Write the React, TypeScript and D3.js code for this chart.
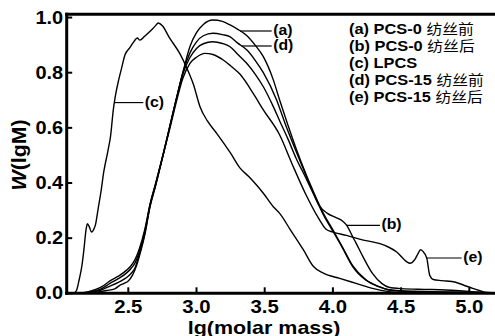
import React from "react";
import * as d3 from "d3";

// ---- data (lg M, W(lgM)) ----
const seriesA: [number, number][] = [
  [2.2, 0], [2.28, 0.005], [2.34, 0.01], [2.4, 0.016], [2.44, 0.03], [2.47, 0.036], [2.5, 0.045],
  [2.53, 0.065], [2.56, 0.1], [2.59, 0.15], [2.62, 0.21], [2.66, 0.315], [2.7, 0.39],
  [2.757, 0.505], [2.8, 0.595], [2.85, 0.7], [2.9, 0.8],
  [2.952, 0.895], [3.0, 0.945], [3.05, 0.975], [3.12, 0.991], [3.19, 0.986], [3.246, 0.973],
  [3.3, 0.958], [3.368, 0.935], [3.43, 0.9], [3.49, 0.858], [3.563, 0.774], [3.61, 0.7],
  [3.67, 0.61], [3.73, 0.525], [3.8, 0.435], [3.856, 0.37], [3.93, 0.29], [4.0, 0.23],
  [4.07, 0.168], [4.145, 0.1], [4.24, 0.05], [4.34, 0.024], [4.41, 0.013], [4.5, 0.009],
  [4.7, 0.006], [5.0, 0.003], [5.19, 0.001],
];
const seriesB: [number, number][] = [
  [2.17, 0], [2.22, 0.005], [2.3, 0.016], [2.366, 0.036], [2.427, 0.053], [2.49, 0.075],
  [2.52, 0.09], [2.549, 0.11], [2.58, 0.15], [2.62, 0.222], [2.66, 0.322], [2.7, 0.395],
  [2.757, 0.508], [2.8, 0.596], [2.85, 0.7],
  [2.9, 0.795], [2.952, 0.855], [3.0, 0.888], [3.05, 0.905], [3.12, 0.912], [3.19, 0.906],
  [3.246, 0.894], [3.3, 0.868], [3.368, 0.834], [3.43, 0.795], [3.49, 0.749], [3.563, 0.677],
  [3.61, 0.625], [3.67, 0.56], [3.73, 0.49], [3.8, 0.42], [3.856, 0.362], [3.9, 0.318],
  [3.96, 0.29], [4.02, 0.275], [4.07, 0.262], [4.1, 0.247], [4.145, 0.205], [4.17, 0.182],
  [4.22, 0.133], [4.29, 0.072], [4.36, 0.035], [4.41, 0.022], [4.5, 0.017], [4.7, 0.014],
  [4.9, 0.01], [5.0, 0.007], [5.1, 0.003], [5.19, 0.001],
];
const seriesC: [number, number][] = [
  [2.1, 0], [2.12, 0.01], [2.14, 0.05], [2.16, 0.1], [2.175, 0.16], [2.19, 0.23], [2.2, 0.252],
  [2.215, 0.24], [2.23, 0.222], [2.245, 0.23], [2.26, 0.25], [2.28, 0.31], [2.3, 0.37],
  [2.32, 0.44], [2.35, 0.515], [2.37, 0.57], [2.39, 0.665], [2.405, 0.715], [2.43, 0.775],
  [2.45, 0.815], [2.476, 0.865], [2.51, 0.89], [2.54, 0.912], [2.566, 0.926], [2.585, 0.918],
  [2.62, 0.932], [2.66, 0.95], [2.695, 0.968], [2.72, 0.98], [2.75, 0.97], [2.8, 0.928],
  [2.879, 0.868], [2.928, 0.818], [2.977, 0.758], [3.027, 0.675], [3.08, 0.625], [3.148, 0.58],
  [3.25, 0.508], [3.318, 0.455], [3.39, 0.42], [3.44, 0.393], [3.49, 0.363], [3.563, 0.314],
  [3.61, 0.29], [3.686, 0.232], [3.783, 0.158], [3.856, 0.098], [3.93, 0.073], [4.05, 0.054],
  [4.17, 0.036], [4.29, 0.018], [4.41, 0.006], [4.5, 0.002], [4.6, 0],
];
const seriesD: [number, number][] = [
  [2.18, 0], [2.25, 0.006], [2.3, 0.012], [2.366, 0.026], [2.427, 0.04], [2.49, 0.058],
  [2.52, 0.072], [2.549, 0.092], [2.58, 0.14], [2.62, 0.215], [2.66, 0.318], [2.7, 0.392],
  [2.757, 0.506], [2.8, 0.596], [2.85, 0.7],
  [2.9, 0.8], [2.952, 0.872], [3.0, 0.912], [3.05, 0.934], [3.12, 0.943], [3.19, 0.938],
  [3.247, 0.93], [3.3, 0.908], [3.37, 0.882], [3.43, 0.845], [3.49, 0.8], [3.588, 0.7],
  [3.65, 0.615], [3.73, 0.515], [3.8, 0.43], [3.856, 0.365], [3.93, 0.285], [4.0, 0.225],
  [4.07, 0.165], [4.145, 0.097], [4.24, 0.048], [4.34, 0.023], [4.41, 0.012], [4.5, 0.008],
  [4.7, 0.005], [5.0, 0.003], [5.19, 0.001],
];
const seriesE: [number, number][] = [
  [2.15, 0], [2.2, 0.005], [2.25, 0.012], [2.3, 0.022], [2.366, 0.045], [2.427, 0.062],
  [2.49, 0.085], [2.52, 0.1], [2.549, 0.122], [2.58, 0.16], [2.62, 0.23], [2.66, 0.325],
  [2.7, 0.398], [2.757, 0.505], [2.8, 0.588],
  [2.85, 0.69], [2.9, 0.78], [2.952, 0.834], [3.0, 0.856], [3.062, 0.87], [3.12, 0.866],
  [3.196, 0.846], [3.25, 0.825], [3.318, 0.795], [3.416, 0.725], [3.49, 0.665], [3.609, 0.575],
  [3.7, 0.47], [3.8, 0.36], [3.9, 0.268], [3.95, 0.232], [4.0, 0.222], [4.1, 0.21],
  [4.223, 0.193], [4.345, 0.18], [4.41, 0.167], [4.468, 0.15], [4.54, 0.115], [4.565, 0.109],
  [4.6, 0.122], [4.625, 0.145], [4.642, 0.158], [4.66, 0.152], [4.688, 0.128], [4.71, 0.065],
  [4.736, 0.05], [4.8, 0.046], [4.9, 0.04], [4.956, 0.03], [5.03, 0.017], [5.1, 0.006],
  [5.19, 0.001],
];

const curves = [seriesA, seriesB, seriesC, seriesD, seriesE];

const yTicks = [0, 0.2, 0.4, 0.6, 0.8, 1.0];
const xTicks = [2.5, 3.0, 3.5, 4.0, 4.5, 5.0];

const legendKeys = ["(a) ", "(b) ", "(c) ", "(d) ", "(e) "];
const legendNames = ["PCS-0 ", "PCS-0 ", "LPCS", "PCS-15 ", "PCS-15 "];
const legendCJK = ["纺丝前", "纺丝后", "", "纺丝前", "纺丝后"];

// annotation labels: series index, start lgM on the curve, end lgM of leader line
const annLabels = ["(a)", "(d)", "(c)", "(b)", "(e)"];
const annSeries = [0, 3, 2, 1, 4];
const annStart = [3.32, 3.33, 2.398, 4.101, 4.688];
const annEnd = [3.551, 3.551, 2.61, 4.345, 4.944];

const W = 495;
const H = 336;
const FONT = "'Liberation Sans', Arial, Helvetica, sans-serif";
const CJK = "'Noto Sans CJK SC', sans-serif";
const SX = 1.13;

function interp(s: [number, number][], v: number) {
  for (let i = 0; i < s.length - 1; i++) {
    if (v >= s[i][0] && v <= s[i + 1][0]) {
      const t = (v - s[i][0]) / (s[i + 1][0] - s[i][0]);
      return s[i][1] + t * (s[i + 1][1] - s[i][1]);
    }
  }
  return 0;
}

function T(props: {
  x: number; y: number; size: number; anchor?: string; children: React.ReactNode;
  weight?: string; baseline?: string;
}) {
  const { x, y, size, anchor = "start", children, weight = "bold", baseline = "auto" } = props;
  return (
    <text
      transform={`translate(${x},${y}) scale(${SX},1)`}
      fontFamily={FONT}
      fontSize={size}
      fontWeight={weight}
      textAnchor={anchor}
      dominantBaseline={baseline}
      fill="#000"
    >
      {children}
    </text>
  );
}

export default function App() {
  const left = 66.7;
  const right = 495;
  const bottom = 293.3;
  const top = 14.3;
  const x = d3.scaleLinear().domain([2.5, 5.0]).range([128.3, 469.3]);
  const y = d3.scaleLinear().domain([0, 1]).range([bottom, 17.55]);

  const line = d3
    .line<[number, number]>()
    .x((d) => x(d[0]))
    .y((d) => y(d[1]))
    .curve(d3.curveMonotoneX);

  const legendY0 = 33.5;
  const legendDY = 17.2;
  const legendX = 349;

  return (
    <svg
      width={W}
      height={H}
      style={{ position: "absolute", left: 0, top: 0, background: "#fff" }}
    >
      <rect x={0} y={0} width={W} height={H} fill="#fff" />
      <defs>
        <clipPath id="plot">
          <rect x={left} y={top} width={right - left} height={bottom - top + 1} />
        </clipPath>
      </defs>

      {/* curves */}
      <g clipPath="url(#plot)">
        {curves.map((s, i) => (
          <path key={i} d={line(s) || ""} fill="none" stroke="#000" strokeWidth={1.4} />
        ))}
      </g>

      {/* frame */}
      <line x1={left} y1={top - 1.5} x2={left} y2={bottom + 1.5} stroke="#000" strokeWidth={3} />
      <line x1={left - 1.5} y1={top} x2={right} y2={top} stroke="#000" strokeWidth={3} />
      <line x1={left - 1.5} y1={bottom} x2={right} y2={bottom} stroke="#000" strokeWidth={3} />

      {/* y ticks */}
      {yTicks.map((t) => (
        <g key={"y" + t}>
          <line x1={left} x2={left + 5.5} y1={y(t)} y2={y(t)} stroke="#000" strokeWidth={2} />
          <T x={left - 3.5} y={y(t)} size={17.7} anchor="end" baseline="central">
            {d3.format(".1f")(t)}
          </T>
        </g>
      ))}

      {/* x ticks */}
      {xTicks.map((t) => (
        <g key={"x" + t}>
          <line x1={x(t)} x2={x(t)} y1={bottom} y2={bottom - 6} stroke="#000" strokeWidth={2} />
          <T x={x(t)} y={312.6} size={18} anchor="middle">
            {d3.format(".1f")(t)}
          </T>
        </g>
      ))}

      {/* axis titles */}
      <T x={264} y={333.5} size={19} anchor="middle">lg(molar mass)</T>
      <text
        transform="translate(26,155) rotate(-90)"
        fontFamily={FONT}
        fontSize={19.5}
        fontWeight="bold"
        textAnchor="middle"
        textLength={71}
        lengthAdjust="spacingAndGlyphs"
      >
        <tspan fontStyle="italic">W</tspan>(lgM)
      </text>

      {/* annotations */}
      {annLabels.map((lab, i) => {
        const s = curves[annSeries[i]];
        const yy = y(interp(s, annStart[i]));
        return (
          <g key={lab}>
            <line
              x1={x(annStart[i])}
              x2={x(annEnd[i])}
              y1={yy}
              y2={yy}
              stroke="#000"
              strokeWidth={1.2}
            />
            <T x={x(annEnd[i]) + 1.5} y={yy - 1.2} size={14} baseline="central">
              {lab}
            </T>
          </g>
        );
      })}

      {/* legend: one text block, one line per series */}
      <text
        transform={`translate(${legendX},${legendY0}) scale(${SX},1)`}
        fontFamily={FONT}
        fontSize={14.5}
        fontWeight="bold"
      >
        {legendKeys.map((k, i) => (
          <React.Fragment key={"lg" + i}>
            <tspan x={0} y={i * legendDY}>
              {k + legendNames[i]}
            </tspan>
            {legendCJK[i] ? (
              <tspan fontFamily={CJK} fontWeight="normal" fontSize={14}>
                {legendCJK[i]}
              </tspan>
            ) : null}
          </React.Fragment>
        ))}
      </text>
    </svg>
  );
}
